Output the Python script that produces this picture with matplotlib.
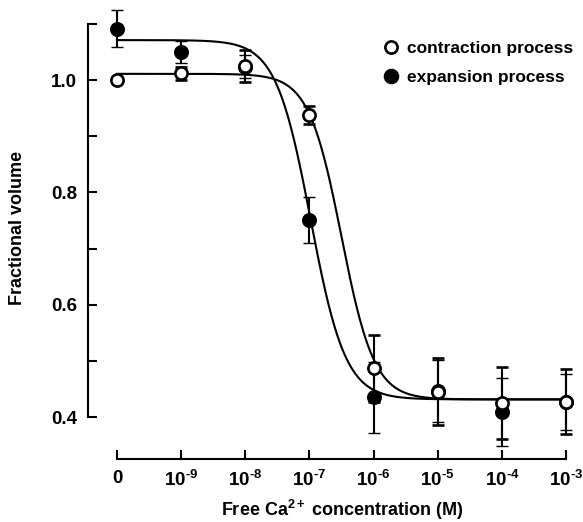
import numpy as np
import matplotlib
matplotlib.use("Agg")
import matplotlib.pyplot as plt
from matplotlib.lines import Line2D

plt.rcParams["font.family"] = ["Liberation Sans", "DejaVu Sans"]
plt.rcParams["font.weight"] = "bold"
plt.rcParams["mathtext.fontset"] = "custom"
plt.rcParams["mathtext.rm"] = "Liberation Sans:bold"
plt.rcParams["mathtext.bf"] = "Liberation Sans:bold"
plt.rcParams["mathtext.it"] = "Liberation Sans:bold"

# Free Ca2+ concentrations (0 M, then 1e-9 .. 1e-3 M), placed at equal spacing
conc_labels = ["0", "$10^{\u20109}$", "$10^{\u20108}$", "$10^{\u20107}$", "$10^{\u20106}$",
               "$10^{\u20105}$", "$10^{\u20104}$", "$10^{\u20103}$"]
conc_pos = np.arange(len(conc_labels))

# Fractional volume, mean +/- error
contraction = [1.000, 1.012, 1.025, 0.938, 0.487, 0.446, 0.425, 0.428]
contraction_err = [0.0, 0.012, 0.028, 0.016, 0.060, 0.060, 0.064, 0.058]
expansion = [1.091, 1.050, 1.024, 0.751, 0.436, 0.447, 0.410, 0.428]
expansion_err = [0.033, 0.020, 0.020, 0.041, 0.063, 0.055, 0.060, 0.050]

# Sigmoid fit parameters (top, bottom, midpoint position, slope)
contraction_fit = (1.011, 0.432, 3.50, 1.70)
expansion_fit = (1.071, 0.432, 3.02, 1.60)


def sigmoid(x, top, bottom, mid, slope):
    return bottom + (top - bottom) / (1.0 + 10 ** ((x - mid) * slope))


W, H = 583, 522
fig = plt.figure(figsize=(W / 100, H / 100), dpi=100)
ax = fig.add_axes([88 / W, 1 - 459 / H, (572 - 88) / W, (459 - 1.3) / H])

xs = np.linspace(0, 7, 600)
for fit in (contraction_fit, expansion_fit):
    ax.plot(xs, sigmoid(xs, *fit), color="black", lw=1.5, zorder=2)

ax.errorbar(conc_pos, expansion, yerr=expansion_err, fmt="o", ms=9.8, mfc="black",
            mec="black", mew=1.0, ecolor="black", elinewidth=1.5, capsize=4,
            capthick=1.5, zorder=3, clip_on=False)
ax.errorbar(conc_pos, contraction, yerr=contraction_err, fmt="o", ms=8.8, mfc="white",
            mec="black", mew=1.9, ecolor="black", elinewidth=1.5, capsize=4,
            capthick=1.5, zorder=4, clip_on=False)

ax.set_xlim(-0.452, 7.094)
ax.set_ylim(0.326, 1.14)

for side in ("top", "right"):
    ax.spines[side].set_visible(False)
ax.spines["left"].set_bounds(0.4, 1.1)
ax.spines["bottom"].set_bounds(0, 7)
ax.spines["left"].set_linewidth(1.5)
ax.spines["bottom"].set_linewidth(1.5)

ax.set_yticks([0.4, 0.6, 0.8, 1.0])
ax.set_yticklabels(["0.4", "0.6", "0.8", "1.0"])
ax.set_yticks([0.5, 0.7, 0.9, 1.1], minor=True)
ax.set_xticks(conc_pos)
ax.set_xticklabels(conc_labels)
ax.tick_params(axis="both", which="both", direction="in", length=6.5, width=1.5,
               labelsize=13.5)
ax.tick_params(axis="y", pad=8)
ax.tick_params(axis="x", pad=8)

fig.text(342 / W, 1 - 516 / H, r"Free Ca$^{2+}$ concentration (M)", ha="center",
         va="baseline", fontsize=13, fontweight="bold")
fig.text(18 / W, 1 - 228 / H, "Fractional volume", ha="center", va="center",
         rotation=90, fontsize=13, fontweight="bold")

handles = [
    Line2D([], [], marker="o", ls="none", ms=8.8, mfc="white", mec="black", mew=1.9),
    Line2D([], [], marker="o", ls="none", ms=10.2, mfc="black", mec="black", mew=1.0),
]
ax.legend(handles, ["contraction process", "expansion process"], loc="upper left",
          bbox_to_anchor=(382 / W, 1 - 41 / H), bbox_transform=fig.transFigure,
          frameon=False, handlelength=1.0, handletextpad=0.45, labelspacing=0.8,
          borderpad=0, borderaxespad=0, prop={"size": 12.5, "weight": "bold"})

fig.savefig("out.png", dpi=100)
